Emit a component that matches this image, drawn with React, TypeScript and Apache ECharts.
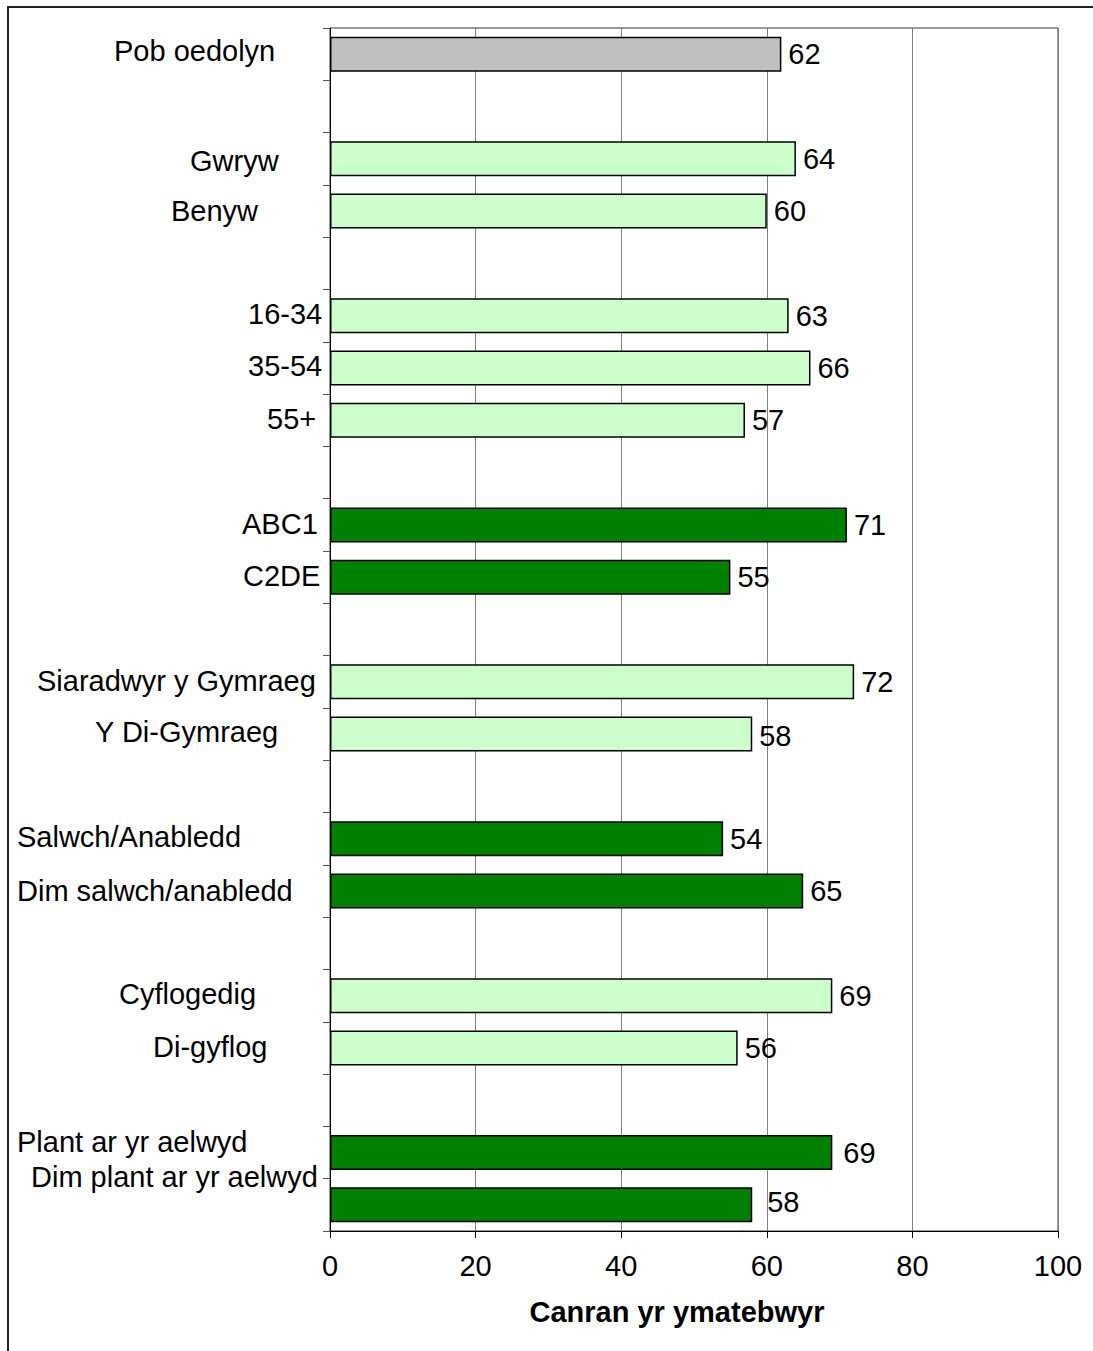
import React, { useEffect, useRef } from "react";
import * as echarts from "echarts";

const categories = [
  "Pob oedolyn", "",
  "Gwryw", "Benyw", "",
  "16-34", "35-54", "55+", "",
  "ABC1", "C2DE", "",
  "Siaradwyr y Gymraeg", "Y Di-Gymraeg", "",
  "Salwch/Anabledd", "Dim salwch/anabledd", "",
  "Cyflogedig", "Di-gyflog", "",
  "Plant ar yr aelwyd", "Dim plant ar yr aelwyd",
];
const values: (number | null)[] = [
  62, null,
  64, 60, null,
  63, 66, 57, null,
  71, 55, null,
  72, 58, null,
  54, 65, null,
  69, 56, null,
  69, 58,
];
const groupKind = [
  "all", "",
  "light", "light", "",
  "light", "light", "light", "",
  "dark", "dark", "",
  "light", "light", "",
  "dark", "dark", "",
  "light", "light", "",
  "dark", "dark",
];
const xTicks = [0, 20, 40, 60, 80, 100];
const axisTitle = "Canran yr ymatebwyr";

// layout only: label left x and vertical shift from bar centre
const labelLayout: [number, number][] = [
  [114, -3], [0, 0],
  [190, 2], [171, 0], [0, 0],
  [248, -2], [248, -2], [267, -1], [0, 0],
  [242, -1], [243, -1], [0, 0],
  [37, -1], [95, -2], [0, 0],
  [17, -2], [17, 0], [0, 0],
  [119, -2], [153, -1], [0, 0],
  [17, -11], [31, -28],
];
// layout only: value label offsets
const valueShift: [number, number][] = [
  [0, 0], [0, 0],
  [0, 0], [0, 0], [0, 0],
  [0, 0], [0, 0], [0, 0], [0, 0],
  [0, 0], [0, 0], [0, 0],
  [0, 0], [0, 2], [0, 0],
  [0, 0], [0, 0], [0, 0],
  [0, 0], [0, 0], [0, 0],
  [4, 0], [8, -3],
];

const colors: Record<string, string> = {
  all: "#C0C0C0",
  light: "#CCFFCC",
  dark: "#008000",
};

const FONT = "Liberation Sans, Arial, sans-serif";
const FS = 29;

export default function App() {
  const ref = useRef<HTMLDivElement>(null);
  useEffect(() => {
    if (!ref.current) return;
    const chart = echarts.init(ref.current, undefined, { renderer: "svg" });
    const data = values.map((v, i) =>
      v === null
        ? "-"
        : {
            value: v,
            itemStyle: { color: colors[groupKind[i]] },
            label: { offset: valueShift[i] },
          }
    );
    chart.setOption({
      animation: false,
      backgroundColor: "#fff",
      grid: {
        left: 330,
        right: 35,
        top: 28,
        bottom: 120,
        show: true,
        borderColor: "#333",
        borderWidth: 1,
      },
      xAxis: {
        type: "value",
        min: 0,
        max: 100,
        interval: 20,
        axisLine: { show: true, lineStyle: { color: "#000", width: 1 } },
        axisTick: { show: true, length: 7, lineStyle: { color: "#000" } },
        axisLabel: {
          fontSize: FS,
          fontFamily: FONT,
          color: "#000",
          margin: 20,
          formatter: (v: number) => (xTicks.includes(v) ? String(v) : ""),
        },
        splitLine: { show: true, lineStyle: { color: "#808080", width: 1 } },
        name: axisTitle,
        nameLocation: "middle",
        nameGap: 66,
        nameTextStyle: {
          fontSize: FS,
          fontWeight: "bold",
          fontFamily: FONT,
          color: "#000",
          padding: [0, 34, 0, 0],
        },
      },
      yAxis: {
        type: "category",
        inverse: true,
        data: categories,
        axisLine: { show: true, lineStyle: { color: "#000", width: 1 } },
        axisTick: { show: true, length: 7, interval: 0, lineStyle: { color: "#555" } },
        axisLabel: { show: false },
        splitLine: { show: false },
      },
      series: [
        {
          type: "bar",
          data,
          barWidth: 35,
          itemStyle: { borderColor: "#000", borderWidth: 1.5 },
          label: {
            show: true,
            position: "right",
            distance: 7,
            fontSize: FS,
            fontFamily: FONT,
            color: "#000",
          },
        },
      ],
    });

    const graphics: any[] = [
      {
        type: "rect",
        shape: { x: 8, y: 7, width: 1300, height: 1600 },
        style: { fill: "none", stroke: "#222", lineWidth: 2 },
        silent: true,
      },
    ];
    categories.forEach((c, i) => {
      if (!c) return;
      const y = chart.convertToPixel({ yAxisIndex: 0 }, i) as number;
      graphics.push({
        type: "text",
        x: labelLayout[i][0],
        y: y + labelLayout[i][1],
        style: {
          text: c,
          fontSize: FS,
          fontFamily: FONT,
          fill: "#000",
          align: "left",
          verticalAlign: "middle",
          textAlign: "left",
          textVerticalAlign: "middle",
        },
      });
    });
    chart.setOption({ graphic: graphics });

    return () => chart.dispose();
  }, []);
  return (
    <div
      ref={ref}
      style={{ position: "fixed", left: 0, top: 0, width: 1093, height: 1351 }}
    />
  );
}
